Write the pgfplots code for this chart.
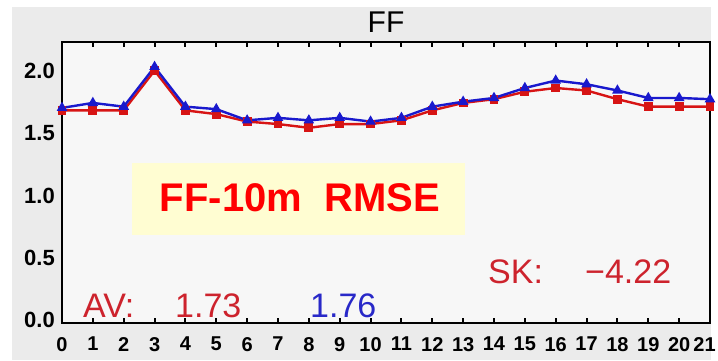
\documentclass[border=0pt]{standalone}
\usepackage{pgfplots}
\pgfplotsset{compat=1.18}
\usepackage{fontspec}
\setmainfont{Liberation Sans}
\definecolor{bggray}{HTML}{EBEBEB}
\definecolor{plotbg}{HTML}{F7F7F7}
\definecolor{ybox}{HTML}{FFFDD2}
\definecolor{lred}{RGB}{215,20,20}
\definecolor{lblue}{RGB}{25,25,205}
\definecolor{tred}{RGB}{205,35,45}
\definecolor{tblue}{RGB}{40,40,200}
\begin{document}
\begin{tikzpicture}[x=1pt,y=1pt]
\useasboundingbox (0,0) rectangle (718,360);
\fill[white] (0,0) rectangle (718,360);
\fill[bggray] (12,0) rectangle (711,353);
\begin{axis}[at={(62pt,37pt)}, anchor=south west, scale only axis,
  width=648pt, height=281pt,
  xmin=0, xmax=21, ymin=0, ymax=2.26,
  axis background/.style={fill=plotbg},
  axis line style={line width=2pt, black},
  xtick={0,...,21}, xtick pos=both, xtick align=inside,
  xticklabels={0,1,2,3,4,5,6,7,8,9,10,11,12,13,14,15,16,17,18,19,20,\hspace*{-11pt}21},
  major tick length=5pt,
  xtick style={line width=2pt, black},
  ytick={0,0.5,1.0,1.5,2.0},
  yticklabels={0.0,0.5,1.0,1.5,2.0},
  ytick style={draw=none},
  yticklabel style={font=\fontsize{22}{22}\selectfont\bfseries, inner sep=2pt, xshift=-5pt, yshift=3pt},
  xticklabel style={font=\fontsize{20}{20}\selectfont\bfseries, inner sep=0pt, yshift=-14pt},
  clip=false,
]
\addplot[lred, line width=2.4pt, mark=square*, mark size=3.2pt] coordinates {
(0,1.71) (1,1.71) (2,1.71) (3,2.03) (4,1.71) (5,1.68) (6,1.62) (7,1.60)
(8,1.57) (9,1.60) (10,1.60) (11,1.63) (12,1.71) (13,1.77) (14,1.80) (15,1.86)
(16,1.89) (17,1.87) (18,1.80) (19,1.74) (20,1.74) (21,1.74)};
\addplot[lblue, line width=2.4pt, mark=triangle*, mark size=3.8pt] coordinates {
(0,1.73) (1,1.77) (2,1.74) (3,2.06) (4,1.74) (5,1.72) (6,1.63) (7,1.65)
(8,1.63) (9,1.65) (10,1.62) (11,1.65) (12,1.74) (13,1.78) (14,1.81) (15,1.89)
(16,1.95) (17,1.92) (18,1.87) (19,1.81) (20,1.81) (21,1.80)};
\end{axis}
\fill[ybox] (132,125) rectangle (465,197);
\node[anchor=center, text=red, font=\fontsize{40}{40}\selectfont\bfseries] at (300,162) {FF-10m\ \ RMSE};
\node[anchor=base, font=\fontsize{30}{30}\selectfont] at (386,328) {FF};
\node[anchor=base west, inner sep=0, text=tred, font=\fontsize{34}{34}\selectfont] at (83,43) {AV:};
\node[anchor=base west, inner sep=0, text=tred, font=\fontsize{34}{34}\selectfont] at (175,43) {1.73};
\node[anchor=base west, inner sep=0, text=tblue, font=\fontsize{34}{34}\selectfont] at (310,43) {1.76};
\node[anchor=base west, inner sep=0, text=tred, font=\fontsize{34}{34}\selectfont] at (488,77) {SK:};
\node[anchor=base west, inner sep=0, text=tred, font=\fontsize{34}{34}\selectfont] at (585,77) {−4.22};
\end{tikzpicture}
\end{document}
